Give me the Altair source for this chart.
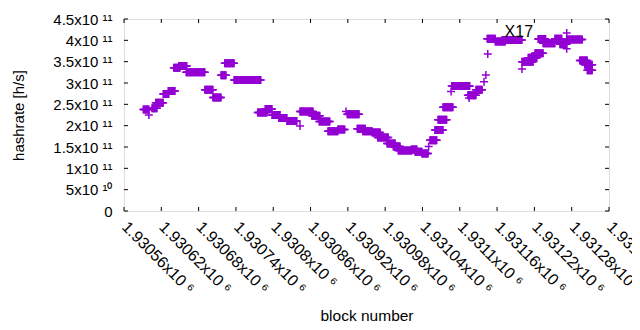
import altair as alt
import pandas as pd

# Runs of equal hashrate estimates: first block, last block, hashrate [h/s]
seg_start = [1930591, 1930600, 1930605, 1930611, 1930623, 1930631, 1930640, 1930648, 1930660,
             1930690, 1930703, 1930716, 1930722, 1930737, 1930775, 1930787, 1930798, 1930809,
             1930822, 1930843, 1930843, 1930862, 1930874, 1930888, 1930904, 1930917, 1930919,
             1930935, 1930944, 1930959, 1930968, 1930983, 1930993, 1931001, 1931022, 1931028,
             1931039, 1931050, 1931052, 1931060, 1931065, 1931073, 1931086, 1931087, 1931113,
             1931126, 1931115, 1931139, 1931142, 1931145, 1931144, 1931157, 1931168, 1931200,
             1931200, 1931210, 1931221, 1931226, 1931234, 1931253, 1931261, 1931272, 1931272,
             1931272, 1931293, 1931301, 1931305]
seg_end = [1930600, 1930600, 1930613, 1930623, 1930632, 1930642, 1930650, 1930661, 1930690,
           1930703, 1930716, 1930724, 1930737, 1930780, 1930790, 1930798, 1930811, 1930822,
           1930838, 1930843, 1930864, 1930875, 1930891, 1930904, 1930915, 1930917, 1930938,
           1930948, 1930959, 1930972, 1930985, 1930996, 1931004, 1931023, 1931031, 1931039,
           1931049, 1931050, 1931063, 1931073, 1931079, 1931089, 1931086, 1931116, 1931126,
           1931136, 1931115, 1931139, 1931142, 1931145, 1931157, 1931173, 1931200, 1931218,
           1931200, 1931224, 1931234, 1931238, 1931253, 1931264, 1931272, 1931272, 1931272,
           1931297, 1931305, 1931313, 1931313]
seg_value = [238e9, 225e9, 241e9, 254e9, 274e9, 281e9, 336e9, 340e9, 325e9,
             284e9, 266e9, 318e9, 346e9, 307e9, 231e9, 239e9, 225e9, 218e9,
             211e9, 199e9, 233e9, 223e9, 210e9, 187e9, 191e9, 233e9, 227e9,
             193e9, 187e9, 184e9, 172e9, 158e9, 151e9, 142e9, 144e9, 139e9,
             135e9, 151e9, 166e9, 190e9, 214e9, 243e9, 280e9, 293e9, 271e9,
             284e9, 265e9, 303e9, 319e9, 368e9, 404e9, 397e9, 401e9, 350e9,
             333e9, 359e9, 370e9, 403e9, 393e9, 404e9, 391e9, 417e9, 380e9,
             402e9, 353e9, 343e9, 330e9]

x_ticks = [1930560, 1930620, 1930680, 1930740, 1930800, 1930860, 1930920, 1930980,
           1931040, 1931100, 1931160, 1931220, 1931280, 1931340]
y_ticks = [0, 0.5e11, 1e11, 1.5e11, 2e11, 2.5e11, 3e11, 3.5e11, 4e11, 4.5e11]

label_text = ["X17"]
label_block = [1931195]
label_value = [420.7e9]

rows = []
for s, e, v in zip(seg_start, seg_end, seg_value):
    for b in range(s, e + 1):
        rows.append({"block": b, "hashrate": v})
df = pd.DataFrame(rows)

W, H = 485, 192
PURPLE = "#9400D3"
FONT = "Liberation Sans"

xs = alt.Scale(domain=[1930560, 1931340], nice=False, zero=False)
ys = alt.Scale(domain=[0, 4.5e11], nice=False)

x_label_expr = "format(datum.value / 1e6, '.5~f') + 'x10 \u2076'"
y_label_expr = ("datum.value == 0 ? '0' : (datum.value < 1e11 ? "
                "format(datum.value / 1e10, '~g') + 'x10 \u00b9\u2070' : "
                "format(datum.value / 1e11, '~g') + 'x10 \u00b9\u00b9')")

x_axis = alt.Axis(
    values=x_ticks, labelExpr=x_label_expr, labelAngle=45, labelAlign="left",
    labelBaseline="middle", labelPadding=13, ticks=False, domain=False, grid=False,
    labelFontSize=16, labelColor="black", labelFont=FONT, labelOverlap=False,
    title="block number", titleFontSize=15.5, titleFontWeight="normal", titleFont=FONT,
    titleX=W / 2, titleY=104, titleBaseline="middle", titleAlign="center", titleColor="black")
y_axis = alt.Axis(
    values=y_ticks, labelExpr=y_label_expr, ticks=False, domain=False, grid=False,
    labelFontSize=15, labelColor="black", labelFont=FONT, labelPadding=12,
    labelBaseline="middle", labelOverlap=False,
    title="hashrate [h/s]", titleFontSize=15, titleFontWeight="normal", titleFont=FONT,
    titleX=-106, titleY=H / 2, titleAngle=-90, titleBaseline="middle", titleAlign="center",
    titleColor="black")

points = alt.Chart(df).mark_point(
    shape="M-1,0L1,0M0,-1L0,1", filled=False, color=PURPLE, strokeWidth=1.5, size=64, opacity=1
).encode(
    x=alt.X("block:Q", scale=xs, axis=x_axis),
    y=alt.Y("hashrate:Q", scale=ys, axis=y_axis),
)

xt = pd.DataFrame({"t": x_ticks})
yt = pd.DataFrame({"t": y_ticks})
TL = 4
tick_bottom = alt.Chart(xt).mark_rule(color="black", strokeWidth=1).encode(
    x=alt.X("t:Q", scale=xs, axis=x_axis), y=alt.value(H), y2=alt.value(H - TL))
tick_top = alt.Chart(xt).mark_rule(color="black", strokeWidth=1).encode(
    x=alt.X("t:Q", scale=xs, axis=x_axis), y=alt.value(0), y2=alt.value(TL))
tick_left = alt.Chart(yt).mark_rule(color="black", strokeWidth=1).encode(
    y=alt.Y("t:Q", scale=ys, axis=y_axis), x=alt.value(0), x2=alt.value(TL))
tick_right = alt.Chart(yt).mark_rule(color="black", strokeWidth=1).encode(
    y=alt.Y("t:Q", scale=ys, axis=y_axis), x=alt.value(W), x2=alt.value(W - TL))

labels = alt.Chart(pd.DataFrame({"text": label_text, "block": label_block, "hashrate": label_value})).mark_text(
    font=FONT, fontSize=16, color="black", align="center", baseline="middle"
).encode(x=alt.X("block:Q", scale=xs, axis=x_axis), y=alt.Y("hashrate:Q", scale=ys, axis=y_axis),
         text="text:N")

chart = alt.layer(points, tick_bottom, tick_top, tick_left, tick_right, labels).properties(
    width=W, height=H,
    autosize=alt.AutoSizeParams(type="none"),
    padding={"left": 116, "top": 11, "right": 23, "bottom": 111},
).configure_view(stroke="black", strokeWidth=1).configure(font=FONT, background="white")

chart.save("out.html", embed_options={"renderer": "svg", "actions": False})
